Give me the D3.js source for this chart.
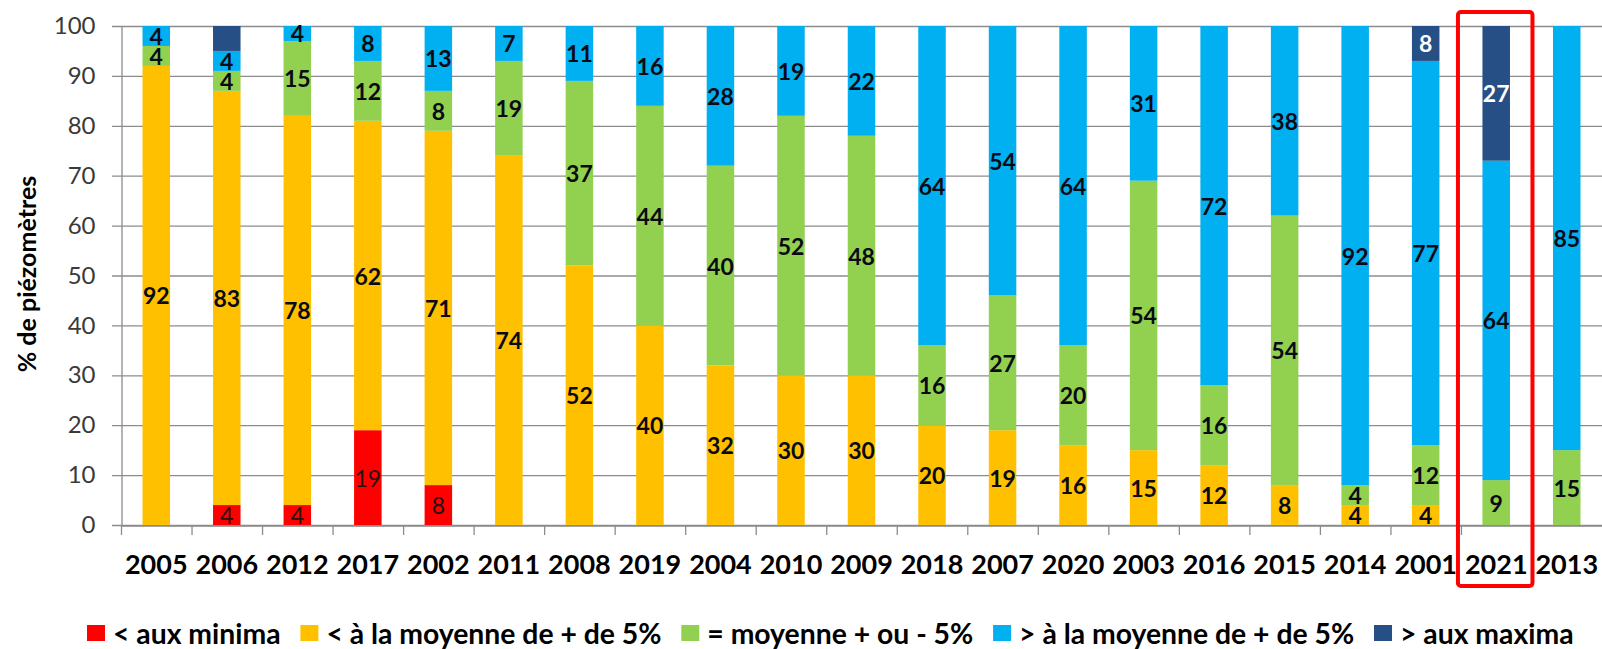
<!DOCTYPE html>
<html>
<head>
<meta charset="utf-8">
<script src="https://cdn.jsdelivr.net/npm/d3@7"></script>
<style>
  html, body { margin: 0; padding: 0; background: #fff; }
  svg { display: block; font-family: Lato, "Open Sans", sans-serif; }
</style>
</head>
<body>
<svg id="chart" width="1602" height="649"></svg>
<script>
// Years, ordered from driest to wettest situation
const years = ["2005","2006","2012","2017","2002","2011","2008","2019","2004","2010",
               "2009","2018","2007","2020","2003","2016","2015","2014","2001","2021","2013"];

// Share of piezometers (%) in each class, per year
const belowMinima   = [0, 4, 4, 19, 8, 0, 0, 0, 0, 0, 0, 0, 0, 0, 0, 0, 0, 0, 0, 0, 0];
const belowAverage  = [92, 83, 78, 62, 71, 74, 52, 40, 32, 30, 30, 20, 19, 16, 15, 12, 8, 4, 4, 0, 0];
const nearAverage   = [4, 4, 15, 12, 8, 19, 37, 44, 40, 52, 48, 16, 27, 20, 54, 16, 54, 4, 12, 9, 15];
const aboveAverage  = [4, 4, 4, 8, 13, 7, 11, 16, 28, 19, 22, 64, 54, 64, 31, 72, 38, 92, 77, 64, 85];
const aboveMaxima   = [0, 5, 0, 0, 0, 0, 0, 0, 0, 0, 0, 0, 0, 0, 0, 0, 0, 0, 8, 27, 0];

const seriesNames = ["< aux minima", "< à la moyenne de + de 5%", "= moyenne + ou - 5%",
                     "> à la moyenne de + de 5%", "> aux maxima"];
const seriesColors = ["#ff0000", "#ffc000", "#92d050", "#00b0f0", "#264f85"];
const yTicks = [0, 10, 20, 30, 40, 50, 60, 70, 80, 90, 100];
const highlightYear = "2021";
// segments drawn without a value label
const unlabeled = [["2006", 4]];

const seriesValues = [belowMinima, belowAverage, nearAverage, aboveAverage, aboveMaxima];
const keys = d3.range(seriesNames.length);
const rows = years.map((yr, i) => {
  const r = { year: yr };
  keys.forEach(k => r[k] = seriesValues[k][i]);
  return r;
});

const svg = d3.select("#chart");
const plotLeft = 121, plotRight = 1602, plotTop = 26, plotBottom = 525;

const x = d3.scaleBand().domain(years).range([plotLeft, plotRight]).padding(0);
const y = d3.scaleLinear().domain([0, 100]).range([plotBottom, plotTop]).clamp(true);
const step = x.step();
const barW = step * 0.39;
const barOff = (step - barW) / 2;

// horizontal gridlines
svg.append("g")
  .selectAll("line").data(yTicks).join("line")
  .attr("x1", plotLeft - 9).attr("x2", plotRight)
  .attr("y1", d => y(d) + 0.5).attr("y2", d => y(d) + 0.5)
  .attr("stroke", "#8c8c8c").attr("stroke-width", 1.3);

// y axis
const yAxis = svg.append("g").attr("transform", `translate(${plotLeft + 0.5},0)`)
  .call(d3.axisLeft(y).tickValues(yTicks).tickSize(0).tickPadding(26));
yAxis.select(".domain").attr("stroke", "#8c8c8c").attr("stroke-width", 1.3);
yAxis.selectAll("text").attr("font-size", 24).attr("fill", "#3a3a3a")
  .attr("font-family", "Lato, sans-serif");

// x axis
const xAxis = svg.append("g").attr("transform", `translate(0,${plotBottom + 0.5})`)
  .call(d3.axisBottom(x).tickSize(0).tickPadding(29));
xAxis.select(".domain").attr("stroke", "#8c8c8c").attr("stroke-width", 1.3);
xAxis.selectAll("text").attr("font-size", 27).attr("font-weight", "bold")
  .attr("fill", "#000").attr("font-family", "Lato, sans-serif");
// category separators below the axis
svg.append("g").selectAll("line").data(years).join("line")
  .attr("x1", d => x(d) + 0.5).attr("x2", d => x(d) + 0.5)
  .attr("y1", plotBottom).attr("y2", plotBottom + 10)
  .attr("stroke", "#8c8c8c").attr("stroke-width", 1.3);

// stacked bars
const stacked = d3.stack().keys(keys)(rows);
const layers = svg.append("g").selectAll("g").data(stacked).join("g")
  .attr("fill", d => seriesColors[d.key]);
layers.selectAll("rect").data(d => d).join("rect")
  .attr("x", d => x(d.data.year) + barOff)
  .attr("width", barW)
  .attr("y", d => y(d[1]))
  .attr("height", d => Math.max(0, y(d[0]) - y(d[1])));

// value labels
const labels = svg.append("g");
stacked.forEach(layer => {
  layer.forEach(d => {
    const v = d[1] - d[0];
    if (v <= 0) return;
    if (unlabeled.some(u => u[0] === d.data.year && u[1] === layer.key)) return;
    const k = layer.key;
    const t = labels.append("text")
      .attr("x", x(d.data.year) + step / 2)
      .attr("y", (y(d[0]) + y(d[1])) / 2)
      .attr("text-anchor", "middle")
      .attr("dominant-baseline", "central")
      .attr("font-size", 23)
      .text(v);
    if (k === 0) t.attr("fill", "#2a1010").attr("font-weight", "normal");
    else if (k === 4) t.attr("fill", "#ffffff").attr("font-weight", "bold");
    else t.attr("fill", "#0a0a14").attr("font-weight", "bold");
  });
});

// y axis title
svg.append("text")
  .attr("transform", "translate(26,274) rotate(-90)")
  .attr("text-anchor", "middle").attr("dominant-baseline", "central")
  .attr("font-size", 25).attr("font-weight", "bold").attr("fill", "#000")
  .text("% de piézomètres");

// highlight frame around the selected year
svg.append("rect")
  .attr("x", x(highlightYear) - 3)
  .attr("y", 12)
  .attr("width", step + 4)
  .attr("height", 574)
  .attr("rx", 3)
  .attr("fill", "none").attr("stroke", "#ff0000").attr("stroke-width", 4);

// legend, laid out in one row and fitted to the available width
const legend = svg.append("g");
const legX0 = 87, legX1 = 1598, legY = 633;
const items = legend.selectAll("g").data(keys).join("g");
items.append("rect").attr("width", 18).attr("height", 16)
  .attr("y", 1)
  .attr("fill", k => seriesColors[k]);
items.append("text").attr("x", 26).attr("y", 9)
  .attr("dominant-baseline", "central")
  .attr("font-size", 24).attr("font-weight", "bold").attr("fill", "#000")
  .text(k => seriesNames[k]);
function layoutLegend(fs) {
  items.select("text").attr("font-size", fs);
  const gap = fs * 0.7;
  let cx = legX0;
  items.each(function () {
    d3.select(this).attr("transform", `translate(${cx},${legY - 9})`);
    cx += 26 + this.querySelector("text").getComputedTextLength() + gap;
  });
  return cx - gap;
}
let fs = 24;
const w = layoutLegend(fs) - legX0;
fs = fs * (legX1 - legX0) / w;
layoutLegend(fs);
</script>
</body>
</html>
